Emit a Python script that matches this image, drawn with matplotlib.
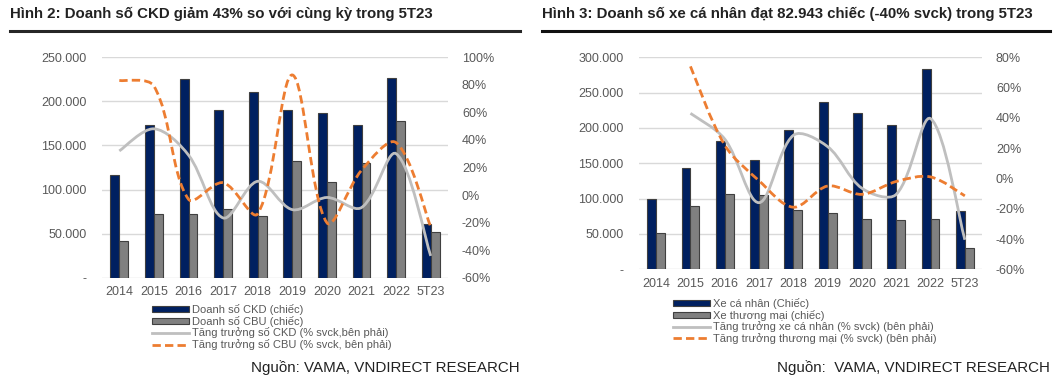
import numpy as np
import matplotlib
matplotlib.use("Agg")
import matplotlib.pyplot as plt
from matplotlib.path import Path
from matplotlib.patches import PathPatch, Rectangle
from matplotlib.lines import Line2D
from matplotlib.ticker import FuncFormatter

plt.rcParams['font.family'] = ['Liberation Sans', 'DejaVu Sans']

years = ['2014', '2015', '2016', '2017', '2018', '2019', '2020', '2021', '2022', '5T23']

# Hinh 2
ckd = [116000, 172700, 225000, 189700, 210000, 189700, 186600, 173500, 226000, 61500]
cbu = [41500, 72000, 72000, 78000, 70500, 132700, 109000, 130000, 178000, 51700]
ckd_g = [32, 48, 29, -16.5, 10, -10.5, -1.7, -9, 30, -44]
cbu_g = [83, 79, -3, 9, -13.5, 87, -20, 18, 38, -23]

# Hinh 3
ca_nhan = [99500, 143000, 181600, 154000, 196700, 236800, 221000, 203800, 283500, 82943]
thuong_mai = [52000, 89000, 106600, 104700, 84400, 79700, 71700, 69300, 70800, 29700]
ca_nhan_g = [None, 43, 26, -16, 28.5, 21, -6.5, -10.5, 39.5, -40.5]
thuong_mai_g = [None, 74, 22, -1.5, -19, -5, -10.5, -2, 1, -11.5]

NAVY = '#002060'
GREY = '#808080'
LGREY = '#BFBFBF'
ORANGE = '#ED7D31'
TXT = '#595959'

W, H = 1057, 381
fig = plt.figure(figsize=(W / 100, H / 100), dpi=100)


def smooth_path(ax, xs, ys):
    # Excel-like smoothed line: Bezier in screen space, tangents split by segment length
    pts = [(x, y) for x, y in zip(xs, ys) if y is not None]
    p = ax.transData.transform(np.array(pts, dtype=float))
    n = len(p)
    d = np.hypot(*np.diff(p, axis=0).T)
    tang = []
    for i in range(n):
        a = p[i - 1] if i > 0 else p[i]
        b = p[i + 1] if i < n - 1 else p[i]
        tang.append(b - a)
    verts = [p[0]]
    codes = [Path.MOVETO]
    for i in range(n - 1):
        f1 = d[i] / (d[i - 1] + d[i]) / 3.0 if i > 0 else 1 / 6.0
        f2 = d[i] / (d[i] + d[i + 1]) / 3.0 if i + 1 < n - 1 else 1 / 6.0
        c1 = p[i] + tang[i] * f1
        c2 = p[i + 1] - tang[i + 1] * f2
        verts += [c1, c2, p[i + 1]]
        codes += [Path.CURVE4] * 3
    verts = ax.transData.inverted().transform(np.array(verts))
    return Path(verts, codes)


def thousands(v, pos):
    if v == 0:
        return '-'
    return '{:,.0f}'.format(v).replace(',', '.')


def panel(rect, bars1, bars2, g1, g2, ymax, ystep, pmin, pmax, pstep):
    ax = fig.add_axes(rect)
    x = np.arange(len(years))
    w = 0.26
    ax.bar(x - w / 2, bars1, w, color=NAVY, edgecolor='#404040', linewidth=0.8, zorder=2)
    ax.bar(x + w / 2, bars2, w, color=GREY, edgecolor='#404040', linewidth=0.8, zorder=2)
    ax.set_xlim(-0.5, len(years) - 0.5)
    ax.set_ylim(0, ymax)
    ax.set_yticks(np.arange(0, ymax + 1, ystep))
    ax.yaxis.set_major_formatter(FuncFormatter(thousands))
    ax.set_xticks(x)
    ax.set_xticklabels(years)
    ax.grid(axis='y', color='#D9D9D9', linewidth=1, zorder=0)
    ax.set_axisbelow(True)
    for s in ax.spines.values():
        s.set_visible(False)
    ax.tick_params(length=0, labelsize=9, colors=TXT)
    ax.tick_params(axis='y', pad=11)
    ax.tick_params(axis='x', pad=6)

    ax2 = ax.twinx()
    ax2.set_xlim(-0.5, len(years) - 0.5)
    ax2.set_ylim(pmin, pmax)
    ax2.set_yticks(np.arange(pmin, pmax + 1, pstep))
    ax2.yaxis.set_major_formatter(FuncFormatter(lambda v, p: '{:.0f}%'.format(v)))
    for s in ax2.spines.values():
        s.set_visible(False)
    ax2.tick_params(length=0, labelsize=9, colors=TXT, pad=10)
    ax2.add_patch(PathPatch(smooth_path(ax2, x, g1), facecolor='none', edgecolor=LGREY,
                            linewidth=2, zorder=3))
    ax2.add_patch(PathPatch(smooth_path(ax2, x, g2), facecolor='none', edgecolor=ORANGE,
                            linewidth=2, linestyle=(0, (3, 1.5)), zorder=4))
    return ax, ax2


def legend(labels, xy):
    handles = [Rectangle((0, 0), 1, 1, facecolor=NAVY, edgecolor='#404040', linewidth=0.8),
               Rectangle((0, 0), 1, 1, facecolor=GREY, edgecolor='#404040', linewidth=0.8),
               Line2D([], [], color=LGREY, linewidth=2),
               Line2D([], [], color=ORANGE, linewidth=2, linestyle=(0, (3, 1.5)))]
    leg = fig.legend(handles, labels, loc='upper left',
                     bbox_to_anchor=(xy[0] / W, 1 - xy[1] / H), frameon=False,
                     fontsize=8, handlelength=3.3, handleheight=0.45,
                     handletextpad=0.3, labelspacing=0.06, borderpad=0, borderaxespad=0)
    for t in leg.get_texts():
        t.set_color(TXT)


# titles and header rules
fig.text(10 / W, 1 - 14 / H, 'Hình 2: Doanh số CKD giảm 43% so với cùng kỳ trong 5T23',
         fontsize=10.8, fontweight='bold', color='#222222', va='center', ha='left')
fig.text(542 / W, 1 - 14 / H, 'Hình 3: Doanh số xe cá nhân đạt 82.943 chiếc (-40% svck) trong 5T23',
         fontsize=10.8, fontweight='bold', color='#222222', va='center', ha='left')
fig.add_artist(Line2D([10 / W, 520 / W], [1 - 31 / H] * 2, color='#262626', linewidth=2.2))
fig.add_artist(Line2D([542 / W, 1050 / W], [1 - 31 / H] * 2, color='#111111', linewidth=2.2))

panel([102 / W, (H - 278) / H, 346 / W, 221 / H], ckd, cbu, ckd_g, cbu_g,
      250000, 50000, -60, 100, 20)
panel([639 / W, (H - 269.3) / H, 343 / W, 212 / H], ca_nhan, thuong_mai, ca_nhan_g, thuong_mai_g,
      300000, 50000, -60, 80, 20)

legend(['Doanh số CKD (chiếc)', 'Doanh số CBU (chiếc)',
        'Tăng trưởng số CKD (% svck,bên phải)', 'Tăng trưởng số CBU (% svck, bên phải)'],
       (152, 304))
legend(['Xe cá nhân (Chiếc)', 'Xe thương mại (chiếc)',
        'Tăng trưởng xe cá nhân (% svck) (bên phải)', 'Tăng trưởng thương mại (% svck) (bên phải)'],
       (673, 298))

fig.text(520 / W, 1 - 368 / H, 'Nguồn: VAMA, VNDIRECT RESEARCH', fontsize=10.9,
         color='#222222', ha='right', va='center')
fig.text(1050 / W, 1 - 368 / H, 'Nguồn:  VAMA, VNDIRECT RESEARCH', fontsize=10.9,
         color='#222222', ha='right', va='center')

fig.savefig('out.png', dpi=100)
